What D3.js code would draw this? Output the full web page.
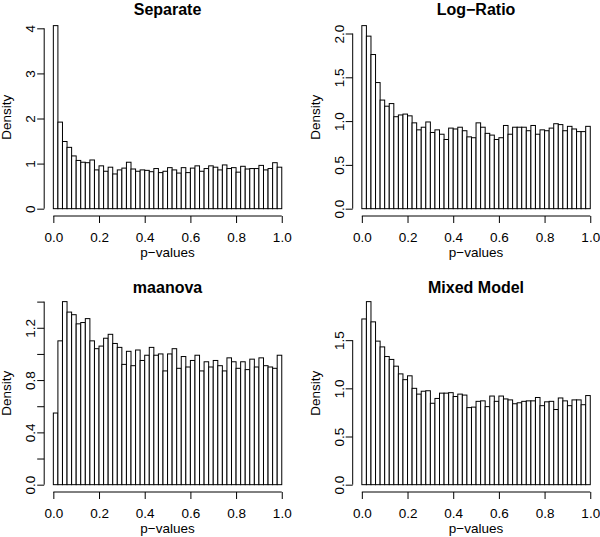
<!DOCTYPE html>
<html>
<head>
<meta charset="utf-8">
<script src="https://cdn.jsdelivr.net/npm/d3@7"></script>
<style>
  html, body { margin: 0; padding: 0; background: #fff; }
  svg { display: block; }
  text { font-family: "Liberation Sans", Arial, Helvetica, sans-serif; fill: #000; }
</style>
</head>
<body>
<script>
// ---- data ----
const binStarts = [0.00,0.02,0.04,0.06,0.08,0.10,0.12,0.14,0.16,0.18,
                   0.20,0.22,0.24,0.26,0.28,0.30,0.32,0.34,0.36,0.38,
                   0.40,0.42,0.44,0.46,0.48,0.50,0.52,0.54,0.56,0.58,
                   0.60,0.62,0.64,0.66,0.68,0.70,0.72,0.74,0.76,0.78,
                   0.80,0.82,0.84,0.86,0.88,0.90,0.92,0.94,0.96,0.98];
const binWidth = 0.02;

const separateDensity = [4.06,1.92,1.49,1.36,1.17,1.07,1.03,1.02,1.08,0.86,
                         0.95,0.83,0.92,0.77,0.86,0.90,1.03,0.88,0.83,0.86,
                         0.85,0.82,0.89,0.80,0.83,0.91,0.86,0.79,0.91,0.80,
                         0.90,0.95,0.83,0.89,0.95,0.92,0.86,0.97,0.89,0.91,
                         0.81,0.94,0.88,0.89,0.89,0.96,0.86,0.89,1.02,0.92];
const logRatioDensity = [2.09,1.97,1.76,1.44,1.24,1.17,1.20,1.05,1.07,1.08,
                         1.06,0.98,0.90,0.93,0.99,0.87,0.90,0.85,0.79,0.92,
                         0.91,0.93,0.89,0.82,0.81,0.98,0.93,0.86,0.84,0.79,
                         0.81,0.95,0.85,0.93,0.93,0.93,0.89,0.95,0.85,0.90,
                         0.89,0.92,0.97,0.96,0.89,0.94,0.91,0.88,0.88,0.94];
const maanovaDensity = [0.548,1.10,1.40,1.32,1.30,1.23,1.24,1.27,1.10,1.04,
                        1.06,1.12,1.15,1.08,1.05,0.92,1.02,0.91,1.03,0.95,
                        0.99,1.05,0.99,1.00,0.87,1.00,1.04,0.89,0.98,0.90,
                        0.95,0.99,0.87,0.94,0.90,0.95,0.91,0.87,0.97,0.94,
                        0.89,0.94,0.88,0.96,0.90,0.97,0.91,0.90,0.89,0.99];
const mixedModelDensity = [1.72,1.90,1.69,1.49,1.43,1.33,1.30,1.23,1.15,1.09,
                           1.13,1.00,0.94,0.97,0.975,0.845,0.895,0.95,0.95,0.955,
                           0.915,0.94,0.93,0.80,0.805,0.865,0.87,0.81,0.92,0.865,
                           0.92,0.89,0.88,0.84,0.85,0.865,0.87,0.87,0.905,0.82,
                           0.86,0.865,0.78,0.90,0.87,0.82,0.88,0.88,0.83,0.925];

const panelTitles = ["Separate", "Log\u2212Ratio", "maanova", "Mixed Model"];
const panelSeries = [separateDensity, logRatioDensity, maanovaDensity, mixedModelDensity];
const yTickValues = [
  [0,1,2,3,4],
  [0,0.5,1,1.5,2],
  [0,0.2,0.4,0.6,0.8,1.0,1.2,1.4],
  [0,0.5,1,1.5]
];
const yTickLabels = [
  ["0","1","2","3","4"],
  ["0.0","0.5","1.0","1.5","2.0"],
  ["0.0","","0.4","","0.8","","1.2",""],
  ["0.0","0.5","1.0","1.5"]
];
const xTickValues = [0,0.2,0.4,0.6,0.8,1.0];
const xTickLabels = ["0.0","0.2","0.4","0.6","0.8","1.0"];
const xAxisTitle = "p\u2212values";
const yAxisTitle = "Density";

// ---- layout ----
const W = 600, H = 537;
const colLeft = [44.2, 352.7];
const rowTop = [18.3, 294.3];
const titleBaseline = [14.5, 293];
const plotW = 246.7, plotH = 197.7;
const tickLen = 7;

const svg = d3.select("body").append("svg")
  .attr("width", W).attr("height", H);

panelSeries.forEach((series, i) => {
  const col = i % 2, row = Math.floor(i / 2);
  const left = colLeft[col], top = rowTop[row];
  const right = left + plotW, bottom = top + plotH;
  const maxV = d3.max(series);

  const x = d3.scaleLinear().domain([-0.04, 1.04]).range([left, right]);
  const y = d3.scaleLinear().domain([-0.04 * maxV, 1.04 * maxV]).range([bottom, top]);

  const g = svg.append("g");

  // bars
  g.selectAll("rect.bar").data(series).enter().append("rect")
    .attr("class", "bar")
    .attr("x", (d, j) => x(binStarts[j]))
    .attr("width", (d, j) => x(binStarts[j] + binWidth) - x(binStarts[j]))
    .attr("y", d => y(d))
    .attr("height", d => y(0) - y(d))
    .attr("fill", "#fff")
    .attr("stroke", "#000")
    .attr("stroke-width", 1);

  // x axis
  const xa = g.append("g").attr("transform", `translate(0,${bottom})`)
    .call(d3.axisBottom(x).tickValues(xTickValues).tickSize(tickLen).tickSizeOuter(0)
      .tickFormat((d, k) => xTickLabels[k]));
  xa.select(".domain").remove();
  xa.append("line")
    .attr("x1", x(xTickValues[0])).attr("x2", x(xTickValues[xTickValues.length - 1]))
    .attr("y1", 0).attr("y2", 0).attr("stroke", "#000");
  xa.selectAll(".tick line").attr("stroke", "#000");
  xa.selectAll(".tick text")
    .attr("y", 25.8).attr("dy", null)
    .attr("font-size", "13.5px").attr("fill", "#000")
    .attr("font-family", "Liberation Sans, Arial, sans-serif");

  // y axis
  const tv = yTickValues[i], tl = yTickLabels[i];
  const ya = g.append("g").attr("transform", `translate(${left},0)`)
    .call(d3.axisLeft(y).tickValues(tv).tickSize(tickLen).tickSizeOuter(0)
      .tickFormat((d, k) => tl[k]));
  ya.select(".domain").remove();
  ya.append("line")
    .attr("x1", 0).attr("x2", 0)
    .attr("y1", y(tv[0])).attr("y2", y(tv[tv.length - 1])).attr("stroke", "#000");
  ya.selectAll(".tick line").attr("stroke", "#000");
  ya.selectAll(".tick text")
    .attr("x", null).attr("dy", null)
    .attr("transform", "translate(-9.2,0) rotate(-90)")
    .attr("text-anchor", "middle")
    .attr("font-size", "13.5px").attr("fill", "#000")
    .attr("font-family", "Liberation Sans, Arial, sans-serif");

  // titles
  g.append("text")
    .attr("x", (left + right) / 2).attr("y", titleBaseline[row])
    .attr("text-anchor", "middle")
    .attr("font-size", "16px").attr("font-weight", "bold")
    .text(panelTitles[i]);

  g.append("text")
    .attr("x", (left + right) / 2).attr("y", bottom + 40.8)
    .attr("text-anchor", "middle")
    .attr("font-size", "13.5px")
    .text(xAxisTitle);

  g.append("text")
    .attr("transform", `translate(${left - 33},${(top + bottom) / 2}) rotate(-90)`)
    .attr("text-anchor", "middle")
    .attr("font-size", "13.5px")
    .text(yAxisTitle);
});
</script>
</body>
</html>
